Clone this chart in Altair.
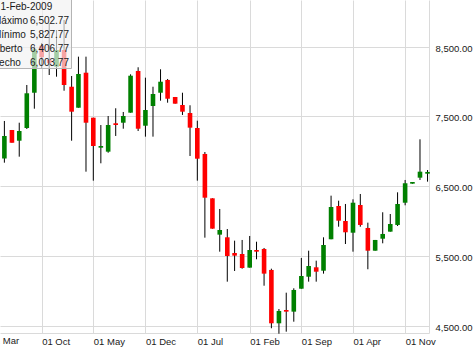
import altair as alt
import pandas as pd

dates = [
    "2006-05-01", "2006-06-01", "2006-07-01", "2006-08-01", "2006-09-01", "2006-10-01",
    "2006-11-01", "2006-12-01", "2007-01-01", "2007-02-01", "2007-03-01", "2007-04-01",
    "2007-05-01", "2007-06-01", "2007-07-01", "2007-08-01", "2007-09-01", "2007-10-01",
    "2007-11-01", "2007-12-01", "2008-01-01", "2008-02-01", "2008-03-01", "2008-04-01",
    "2008-05-01", "2008-06-01", "2008-07-01", "2008-08-01", "2008-09-01", "2008-10-01",
    "2008-11-01", "2008-12-01", "2009-01-01", "2009-02-01", "2009-03-01", "2009-04-01",
    "2009-05-01", "2009-06-01", "2009-07-01", "2009-08-01", "2009-09-01", "2009-10-01",
    "2009-11-01", "2009-12-01", "2010-01-01", "2010-02-01", "2010-03-01", "2010-04-01",
    "2010-05-01", "2010-06-01", "2010-07-01", "2010-08-01", "2010-09-01", "2010-10-01",
    "2010-11-01", "2010-12-01", "2011-01-01", "2011-02-01",
]
opens = [
    6897, 7306, 7152, 7334, 7840, 8514, 8309, 8213, 8453, 7926, 7625, 8127,
    7482, 7052, 6995, 7402, 7410, 7554, 8152, 7367, 7650, 7840, 8023, 7779,
    7664, 7549, 7334, 6962, 6326, 5805, 5767, 5542, 5528, 5332, 5585, 5600,
    5299, 4534, 4725, 4701, 5030, 5202, 5337, 5288, 5739, 6216, 6001, 5833,
    6230, 5901, 5575, 5747, 5848, 5944, 6263, 6536, 6622, 6679,
]
highs = [
    7435, 7306, 7410, 7951, 8510, 8553, 8840, 8739, 8883, 8080, 8357, 8357,
    7482, 7377, 7506, 7617, 7564, 8104, 8205, 8056, 7926, 8176, 8037, 7779,
    7840, 7660, 7439, 6990, 6326, 6173, 5886, 5719, 5729, 5786, 5704, 5614,
    5317, 4739, 4973, 5036, 5471, 5575, 5432, 5767, 6364, 6292, 6245, 6312,
    6388, 5977, 5729, 6126, 6101, 6412, 6589, 6560, 7172, 6732,
]
lows = [
    6837, 7124, 6923, 7320, 7611, 8195, 8094, 8070, 7869, 7152, 7625, 6708,
    6579, 6828, 6980, 7220, 7324, 7554, 7291, 7210, 7210, 7726, 7697, 7683,
    7521, 6933, 6579, 5762, 5891, 5561, 5131, 5284, 5317, 5332, 5452, 5073,
    4463, 4385, 4414, 4557, 5030, 5131, 5131, 5246, 5739, 5919, 5671, 5561,
    5919, 5309, 5575, 5681, 5848, 5929, 6226, 6536, 6589, 6565,
]
closes = [
    7220, 7124, 7291, 7832, 8463, 8348, 8266, 8453, 7951, 7568, 8109, 7410,
    7076, 7076, 7377, 7377, 7506, 8084, 7324, 7592, 7822, 7998, 7754, 7683,
    7568, 7339, 6894, 6335, 5891, 5872, 5499, 5504, 5327, 5585, 5561, 5246,
    4534, 4711, 4701, 5012, 5212, 5356, 5274, 5657, 6202, 6005, 5839, 6263,
    5944, 5575, 5729, 5815, 5958, 6245, 6542, 6560, 6708, 6704,
]

y_ticks = [4500, 5500, 6500, 7500, 8500]
x_tick_dates = [(2006, 10), (2007, 5), (2007, 12), (2008, 7), (2009, 2),
                (2009, 9), (2010, 4), (2010, 11)]
first_tick_label = "01 Mar"
first_tick_date = "2006-03-01"

tip_date = "1-Feb-2009"
tip_labels = ["Máximo", "Mínimo", "Aberto", "Fecho"]
tip_values = ["6,502.77", "5,827.77", "6,406.77", "6,003.77"]

df = pd.DataFrame({"date": dates, "open": opens, "high": highs, "low": lows, "close": closes})
df["dir"] = ["down" if o > c else "up" for o, c in zip(opens, closes)]

FONT = "Liberation Sans"
FS = 9.5
GRID = "#dadada"

x_scale = alt.Scale(
    type="utc",
    domain=[alt.DateTime(year=2006, month=4, date=13, utc=True),
            alt.DateTime(year=2011, month=2, date=7, utc=True)],
    padding=0,
)
x_axis = alt.Axis(
    values=[alt.DateTime(year=y, month=m, date=1, utc=True) for y, m in x_tick_dates],
    format="%d %b", labelAlign="left", labelFlush=False, labelOverlap=False,
    ticks=False, grid=True, gridColor=GRID, domain=True, domainColor=GRID,
    labelPadding=3, title=None,
)
x_enc = alt.X("date:T", scale=x_scale, axis=x_axis)

y_scale = alt.Scale(domain=[4395, 9169.5], nice=False, zero=False, padding=0)
y_axis = alt.Axis(
    values=y_ticks, format=",.2f", orient="right", ticks=False, grid=True,
    gridColor=GRID, domain=True, domainColor=GRID, labelPadding=6,
    labelOffset=1.5, title=None,
)

base = alt.Chart(df)
wicks = base.mark_rule(color="black", strokeWidth=1).encode(
    x=x_enc,
    y=alt.Y("low:Q", scale=y_scale, axis=y_axis),
    y2="high:Q",
)
bodies = base.mark_bar(width=4.6).encode(
    x=x_enc,
    y=alt.Y("open:Q", scale=y_scale, axis=y_axis),
    y2="close:Q",
    color=alt.Color("dir:N", scale=alt.Scale(domain=["up", "down"], range=["#008000", "#ff0000"]), legend=None),
)

mar_df = pd.DataFrame({"date": [first_tick_date], "label": [first_tick_label]})
mar_text = alt.Chart(mar_df).mark_text(
    align="left", baseline="middle", font=FONT, fontSize=FS, color="#1a1a1a"
).encode(x=x_enc, y=alt.value(341), text="label:N")

one = pd.DataFrame({"k": [0]})
tip_box = alt.Chart(one).mark_rect(
    fill="#f2f2f2", fillOpacity=0.68, stroke="#b4b4b4", strokeWidth=1
).encode(x=alt.value(-5), x2=alt.value(71.5), y=alt.value(-5), y2=alt.value(68.5))

tip_layers = [
    alt.Chart(one).mark_text(align="left", baseline="middle", font=FONT, fontSize=FS + 0.5, color="#1a1a1a")
    .encode(x=alt.value(0.5), y=alt.value(7), text=alt.value(tip_date))
]
for i, (lab, val) in enumerate(zip(tip_labels, tip_values)):
    yy = 21 + 14 * i
    tip_layers.append(
        alt.Chart(one).mark_text(align="left", baseline="middle", font=FONT, fontSize=FS + 0.5, color="#1a1a1a")
        .encode(x=alt.value(-7), y=alt.value(yy), text=alt.value(lab))
    )
    tip_layers.append(
        alt.Chart(one).mark_text(align="right", baseline="middle", font=FONT, fontSize=FS + 0.5, color="#1a1a1a")
        .encode(x=alt.value(69), y=alt.value(yy), text=alt.value(val))
    )

chart = alt.layer(wicks, bodies, mar_text, tip_box, *tip_layers).properties(
    width=429, height=333,
    padding={"left": 0, "top": 0, "right": 47, "bottom": 18},
    autosize="none",
    background="white",
).configure_view(stroke=None).configure_axis(
    labelFont=FONT, labelFontSize=FS, labelColor="#1a1a1a"
)

chart.save("out.html", embed_options={"renderer": "svg", "actions": False})
